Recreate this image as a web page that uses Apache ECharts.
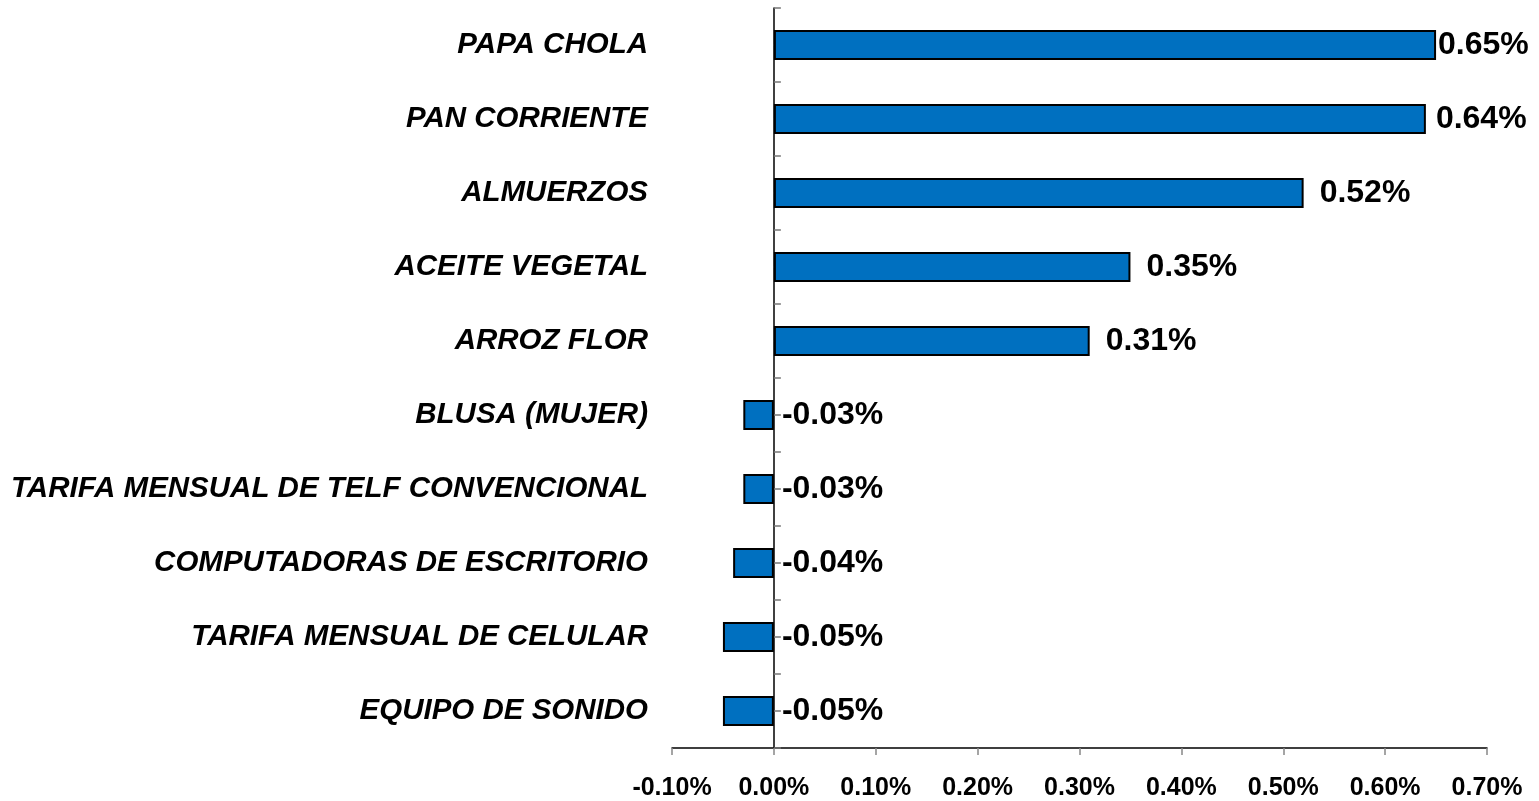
<!DOCTYPE html>
<html>
<head>
<meta charset="utf-8">
<script src="https://cdn.jsdelivr.net/npm/echarts@6/dist/echarts.min.js"></script>
<style>
  html, body { margin: 0; padding: 0; background: #fff; }
  #chart { width: 1539px; height: 801px; }
</style>
</head>
<body>
<div id="chart"></div>
<script>
  // productos (de abajo hacia arriba, como los dibuja el eje)
  var productos = [
    'EQUIPO DE SONIDO',
    'TARIFA MENSUAL DE CELULAR',
    'COMPUTADORAS DE ESCRITORIO',
    'TARIFA MENSUAL DE TELF CONVENCIONAL',
    'BLUSA (MUJER)',
    'ARROZ FLOR',
    'ACEITE VEGETAL',
    'ALMUERZOS',
    'PAN CORRIENTE',
    'PAPA CHOLA'
  ];
  // incidencia en %
  var incidencia = [-0.05, -0.05, -0.04, -0.03, -0.03, 0.31, 0.35, 0.52, 0.64, 0.65];
  // marcas del eje X
  var ejeMin = -0.10;
  var ejeMax = 0.70;
  var ejePaso = 0.10;

  // marcas intermedias del eje de categorias (dos por categoria)
  var marcas = [];
  for (var i = 0; i < productos.length * 2; i++) {
    marcas.push('');
  }

  // las etiquetas pegadas al borde derecho quedan mas cerca de la barra
  var datos = incidencia.map(function (v) {
    var d = 8;
    if (v > 0) d = v >= 0.65 ? 2 : (v >= 0.6 ? 10 : 16);
    return { value: v, label: { distance: d } };
  });

  var chart = echarts.init(document.getElementById('chart'));
  chart.setOption({
    animation: false,
    grid: {
      left: 672,
      right: 52,
      top: 8,
      bottom: 50
    },
    xAxis: {
      type: 'value',
      min: ejeMin,
      max: ejeMax,
      interval: ejePaso,
      splitLine: { show: false },
      axisLine: { show: true, onZero: false, lineStyle: { color: '#000', width: 1.5 } },
      axisTick: { show: true, length: 7, lineStyle: { color: '#888', width: 1.5 } },
      axisLabel: {
        margin: 28,
        color: '#000',
        fontFamily: 'Liberation Sans, Arial',
        fontWeight: 'bold',
        fontSize: 25,
        formatter: function (v) { return v.toFixed(2) + '%'; }
      }
    },
    yAxis: [
      {
        type: 'category',
        data: productos,
        axisLine: { show: false, onZero: false },
        axisTick: { show: false },
        axisLabel: {
          margin: 24,
          color: '#000',
          fontFamily: 'Liberation Sans, Arial',
          fontWeight: 'bold',
          fontStyle: 'italic',
          fontSize: 29.5
        }
      },
      {
        type: 'category',
        data: marcas,
        position: 'left',
        axisLine: { show: true, onZero: true, lineStyle: { color: '#000', width: 1.5 } },
        axisTick: { show: true, inside: true, length: 7, lineStyle: { color: '#777', width: 1.5 } },
        axisLabel: { show: false }
      }
    ],
    series: [
      {
        type: 'bar',
        yAxisIndex: 0,
        data: datos,
        barWidth: 30,
        itemStyle: {
          color: '#0070C0',
          borderColor: '#000',
          borderWidth: 2
        },
        label: {
          show: true,
          position: 'right',
          color: '#000',
          fontFamily: 'Liberation Sans, Arial',
          fontWeight: 'bold',
          fontSize: 32,
          formatter: function (p) { return p.value.toFixed(2) + '%'; }
        }
      }
    ]
  });
</script>
</body>
</html>
